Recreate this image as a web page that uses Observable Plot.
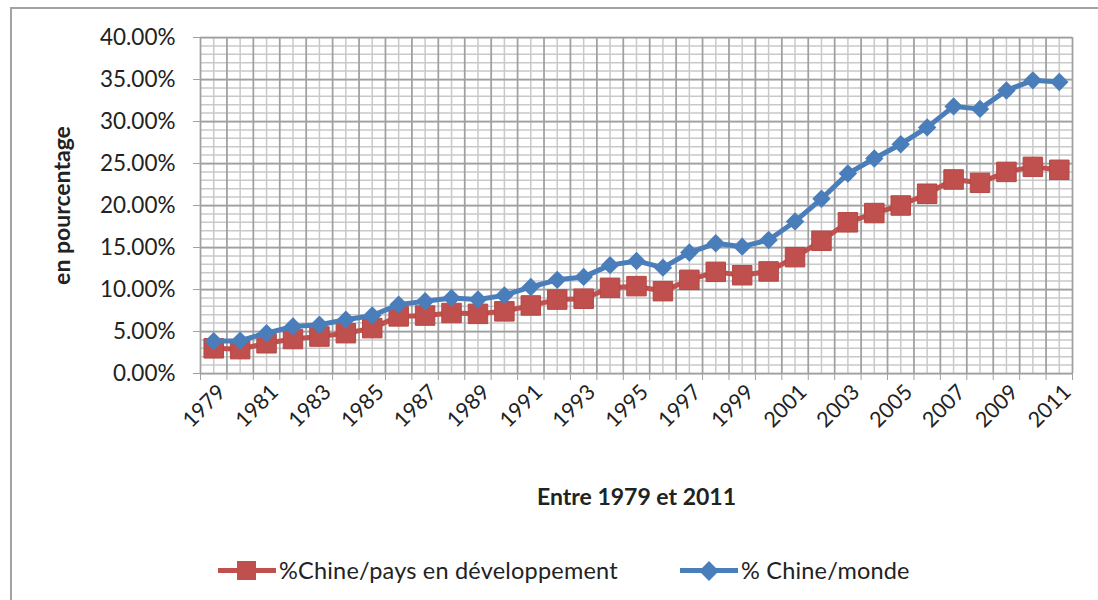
<!DOCTYPE html>
<html>
<head>
<meta charset="utf-8">
<script src="https://cdn.jsdelivr.net/npm/d3@7"></script>
<script src="https://cdn.jsdelivr.net/npm/@observablehq/plot@0.6"></script>
<style>
  body { margin: 0; background: #fff; }
  #wrap { position: relative; width: 1098px; height: 600px; overflow: hidden; font-family: Lato, "Open Sans", sans-serif; }
  #border { position: absolute; left: 10px; top: 7px; width: 1200px; height: 700px; border: 2px solid #a3a3a3; box-sizing: border-box; }
  #chart { position: absolute; left: 0; top: 0; }
  #legend { position: absolute; left: 0; top: 555px; width: 1098px; height: 30px; font-size: 23.5px; color: #222; }
  .item { position: absolute; top: 0; height: 30px; }
  .sw { position: absolute; top: 13px; left: 0; width: 58px; height: 5px; }
  .mk { position: absolute; }
  .lbl { position: absolute; left: 61px; top: 0; line-height: 30px; white-space: nowrap; letter-spacing: 0.2px; }
</style>
</head>
<body>
<div id="wrap">
  <div id="border"></div>
  <div id="chart"></div>
  <div id="legend"></div>
</div>
<script>
// ---- data ----
const years = [1979, 1980, 1981, 1982, 1983, 1984, 1985, 1986, 1987, 1988, 1989,
               1990, 1991, 1992, 1993, 1994, 1995, 1996, 1997, 1998, 1999, 2000,
               2001, 2002, 2003, 2004, 2005, 2006, 2007, 2008, 2009, 2010, 2011];
const chineDev = [3.0, 2.9, 3.6, 4.1, 4.4, 4.8, 5.4, 6.8, 6.9, 7.2, 7.1,
                  7.4, 8.1, 8.8, 8.9, 10.2, 10.4, 9.8, 11.15, 12.1, 11.7, 12.15,
                  13.85, 15.8, 18.0, 19.1, 20.0, 21.4, 23.1, 22.7, 24.0, 24.6, 24.25];
const chineMonde = [3.85, 3.9, 4.8, 5.6, 5.8, 6.4, 6.9, 8.2, 8.6, 9.0, 8.8,
                    9.3, 10.3, 11.15, 11.5, 12.9, 13.4, 12.6, 14.4, 15.5, 15.1, 15.9,
                    18.1, 20.8, 23.8, 25.6, 27.3, 29.3, 31.8, 31.5, 33.7, 34.9, 34.7];
const seriesNames = ["%Chine/pays en développement", "% Chine/monde"];
const yTicks = [0, 5, 10, 15, 20, 25, 30, 35, 40];
const xTickLabels = ["1979", "1981", "1983", "1985", "1987", "1989", "1991", "1993", "1995",
                     "1997", "1999", "2001", "2003", "2005", "2007", "2009", "2011"];
const xTitle = "Entre 1979 et 2011";
const yTitle = "en pourcentage";

// ---- styling ----
const RED = "#C0504D", BLUE = "#4A7EBB";
const MAJOR = "#a0a0a0", MINOR = "#c9c9c9";
const FONT = "Lato, 'Open Sans', sans-serif";

const devData = years.map((year, i) => ({year, value: chineDev[i]}));
const mondeData = years.map((year, i) => ({year, value: chineMonde[i]}));
const boundaries = [...years.map(y => y - 0.5), years[years.length - 1] + 0.5];
const minorY = d3.range(yTicks[0], yTicks[yTicks.length - 1] + 1, 1);

const chart = Plot.plot({
  width: 1098,
  height: 520,
  marginLeft: 200,
  marginRight: 26,
  marginTop: 37,
  marginBottom: 147,
  style: {fontFamily: FONT, fontSize: "22px", color: "#222", background: "transparent", overflow: "visible"},
  x: {domain: [years[0] - 0.5, years[years.length - 1] + 0.5], axis: null},
  y: {domain: [yTicks[0], yTicks[yTicks.length - 1]], axis: null},
  marks: [
    Plot.ruleY(minorY, {stroke: MINOR, strokeWidth: 1.5}),
    Plot.ruleX(years, {stroke: MINOR, strokeWidth: 1.5}),
    Plot.ruleY(yTicks, {stroke: MAJOR, strokeWidth: 1.75}),
    Plot.ruleX(boundaries, {stroke: MAJOR, strokeWidth: 1.75}),
    Plot.axisY({ticks: yTicks, tickSize: 7, tickPadding: 18, tickFormat: d => d.toFixed(2) + "%",
                stroke: MAJOR, label: null, fontSize: 22.5}),
    Plot.axisX({ticks: boundaries, tickSize: 7, tickFormat: () => "", stroke: MAJOR, label: null}),
    Plot.text(xTickLabels, {x: d => +d, text: d => d, frameAnchor: "bottom", dx: 13, dy: 20, rotate: -45,
                            textAnchor: "end", lineAnchor: "bottom", fontSize: 21.5, fill: "#222"}),
    Plot.text([xTitle], {frameAnchor: "bottom", dy: 124, textAnchor: "middle", lineAnchor: "middle",
                         fontWeight: "bold", fontSize: 23, fill: "#222"}),
    Plot.text([yTitle], {frameAnchor: "left", dx: -138, rotate: -90, textAnchor: "middle", lineAnchor: "middle",
                         fontWeight: "bold", fontSize: 23, fill: "#222"}),
    Plot.line(devData, {x: "year", y: "value", stroke: RED, strokeWidth: 5}),
    Plot.dot(devData, {x: "year", y: "value", symbol: "square", r: 11, fill: RED, stroke: "#b54845", strokeWidth: 1}),
    Plot.line(mondeData, {x: "year", y: "value", stroke: BLUE, strokeWidth: 5}),
    Plot.dot(mondeData, {x: "year", y: "value", symbol: "diamond2", r: 8.3, fill: BLUE})
  ]
});
document.getElementById("chart").appendChild(chart);

// ---- legend ----
const legend = document.getElementById("legend");
const items = [
  {name: seriesNames[0], color: RED, left: 218, shape: "square"},
  {name: seriesNames[1], color: BLUE, left: 680, shape: "diamond"}
];
for (const it of items) {
  const d = document.createElement("div");
  d.className = "item";
  d.style.left = it.left + "px";
  const sw = document.createElement("div");
  sw.className = "sw";
  sw.style.background = it.color;
  d.appendChild(sw);
  const mk = document.createElement("div");
  mk.className = "mk";
  mk.style.background = it.color;
  if (it.shape === "square") {
    mk.style.width = "19px"; mk.style.height = "19px";
    mk.style.left = "19px"; mk.style.top = "6px";
  } else {
    mk.style.width = "14px"; mk.style.height = "14px";
    mk.style.left = "22px"; mk.style.top = "8.5px";
    mk.style.transform = "rotate(45deg)";
  }
  d.appendChild(mk);
  const l = document.createElement("div");
  l.className = "lbl";
  l.textContent = it.name;
  d.appendChild(l);
  legend.appendChild(d);
}
</script>
</body>
</html>
